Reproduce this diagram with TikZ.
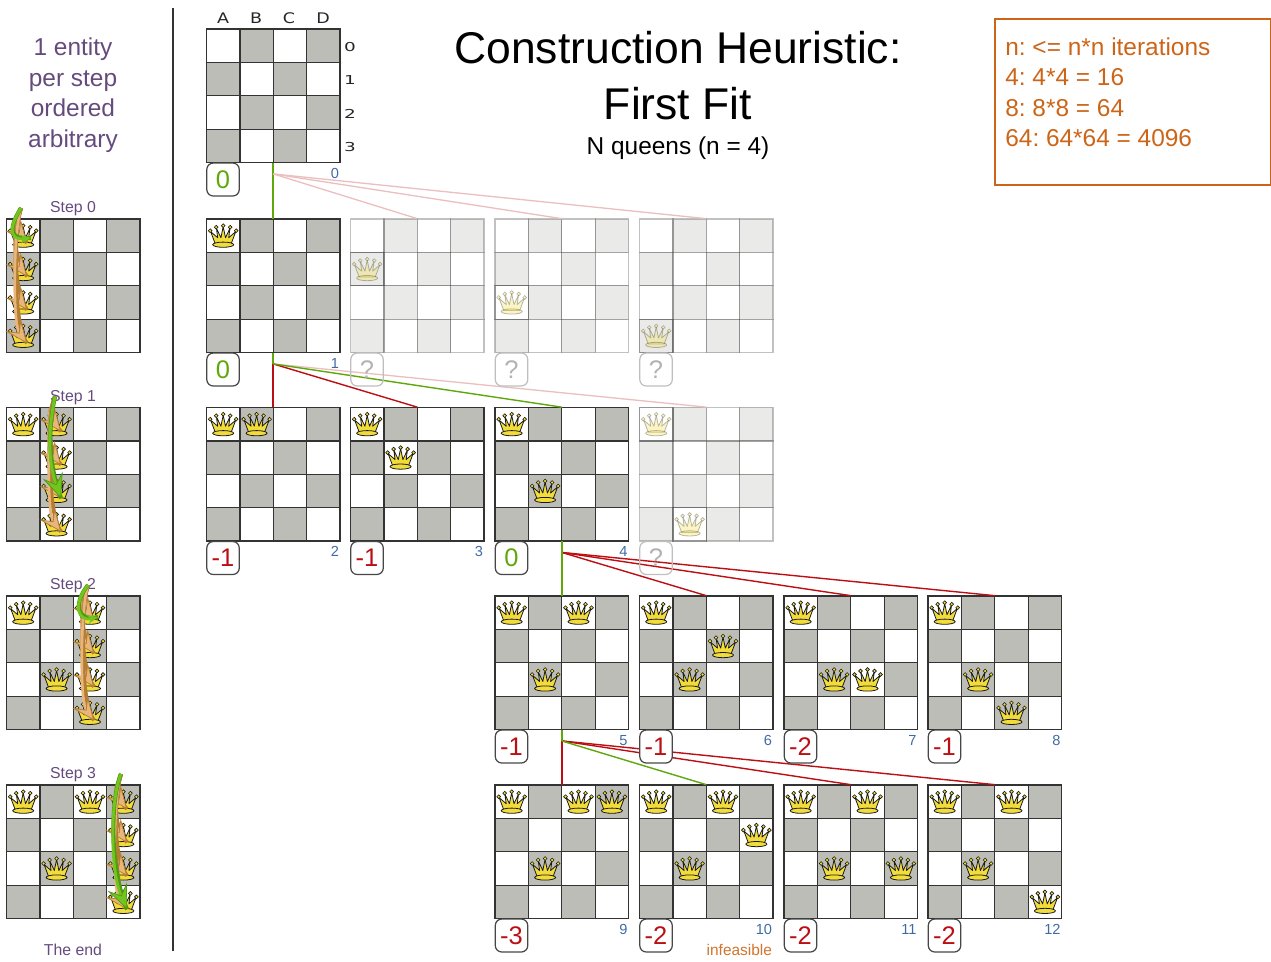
\documentclass[tikz,border=0pt]{standalone}
\usepackage{fontspec}
\setmainfont{Liberation Sans}
\newfontfamily\lettresfont{DejaVu Sans}
\usetikzlibrary{calc,positioning,arrows.meta}
\frenchspacing
\definecolor{caseFoncee}{HTML}{BBBDB6}
\definecolor{traitCase}{HTML}{333333}
\definecolor{violetTexte}{HTML}{654A7E}
\definecolor{orangeTexte}{HTML}{CC6518}
\definecolor{bleuNum}{HTML}{3F6BA5}
\definecolor{vertScore}{HTML}{5FA80C}
\definecolor{rougeScore}{HTML}{BC0F14}
\definecolor{roseLien}{HTML}{EBBFC0}
\definecolor{orReine}{HTML}{F2DC3C}
\definecolor{flecheOrange}{HTML}{E8B67C}
\definecolor{bordOrange}{HTML}{B57D32}
\definecolor{flecheVerte}{HTML}{72C51E}
\definecolor{bordVert}{HTML}{4E9A12}
\tikzset{
  casePlateau/.style={draw=traitCase,line width=0.7pt},
  plateau/.style={inner sep=0pt,minimum size=2.672cm},
  estompe/.style={opacity=0.3},
  scoreBox/.style={draw=traitCase!90,line width=0.7pt,rounded corners=0.13cm,fill=white,inner sep=0pt,
    minimum width=0.65cm,minimum height=0.66cm,font=\fontsize{14.5}{17}\selectfont},
  scoreBon/.style={scoreBox,text=vertScore},
  scoreMauvais/.style={scoreBox,text=rougeScore},
  scoreInconnu/.style={scoreBox,fill=none,draw=black!25,text=black!30},
  numero/.style={text=bleuNum,inner sep=0pt,font=\fontsize{8.3}{10}\selectfont},
  lienRouge/.style={draw=rougeScore,line width=0.8pt},
  lienVert/.style={draw=vertScore,line width=0.8pt},
  lienRose/.style={draw=roseLien,line width=0.75pt},
  etiquette/.style={text=violetTexte,inner sep=0pt,font=\fontsize{9}{10}\selectfont},
  blocTexte/.style={inner sep=0pt,font=\fontsize{13.9}{17.4}\selectfont},
  repereLettre/.style={text=black!85,inner sep=0pt,transform shape,xscale=1.2,font=\lettresfont\fontsize{8.3}{10}\selectfont},
  repereChiffre/.style={text=black!85,inner sep=0pt,transform shape,xscale=1.5,font=\lettresfont\fontsize{7}{10}\selectfont},
  flecheEssai/.style={draw=flecheOrange,line width=1.5pt,
    preaction={draw=bordOrange,line width=2.2pt,-},
    -{Stealth[length=13pt,width=11pt,inset=5.5pt,line width=0.4pt,color=bordOrange,fill=flecheOrange]}},
  flecheChoix/.style={draw=flecheVerte,line width=1.6pt,
    preaction={draw=bordVert,line width=2.3pt,-},
    -{Stealth[length=14pt,width=12pt,inset=5.5pt,line width=0.4pt,color=bordVert,fill=flecheVerte]}},
  flecheCourte/.style={draw=flecheVerte,line width=1.6pt,
    preaction={draw=bordVert,line width=2.3pt,-},
    -{Stealth[length=6pt,width=5pt,inset=2pt,fill=flecheVerte]}},
  reine/.pic={
    \fill[orReine,draw=black!90,line width=0.45pt,line join=round] (-8,8) -- (-12.5,-4) -- (-5.5,2) -- (-6.8,-7.5)
      -- (-2.3,2) -- (0,-9) -- (2.3,2) -- (6.8,-7.5) -- (5.5,2) -- (12.5,-4) -- (8,8) -- cycle;
    \fill[orReine,draw=black!90,line width=0.45pt] (0,9) ellipse (10.5 and 2.6);
    \foreach \bx/\by in {-13/-5,-7/-8.5,0/-10,7/-8.5,13/-5}
      \fill[orReine,draw=black!90,line width=0.35pt] (\bx,\by) circle (1.9);
  }
}
% plateau : [style]{nom}{(x,y)}{reines colonne/ligne}
\newcommand{\plateauReines}[4][]{%
  \begin{scope}[shift={#3},#1]
    \node[plateau] (#2) at (66.8,66.8) {};
    \foreach \cc in {0,...,3}
      \foreach \rr in {0,...,3} {
        \pgfmathtruncatemacro{\teinte}{mod(\cc+\rr,2)}
        \ifnum\teinte=1 \def\fond{caseFoncee}\else\def\fond{white}\fi
        \path[casePlateau,fill=\fond] (\cc*33.4,\rr*33.4) rectangle ++(33.4,33.4);
      }
    \foreach \qc/\qr in {#4} {
      \draw[casePlateau] (\qc*33.4,\qr*33.4) rectangle ++(33.4,33.4);
      \path (\qc*33.4+16.7,\qr*33.4+16.7) pic {reine};
    }
  \end{scope}
}
\begin{document}
\begin{tikzpicture}[x=0.02cm,y=-0.02cm]
  \useasboundingbox (0,0) rectangle (1271,962);

  % Titre et textes
  \node[font=\fontsize{25.3}{31.8}\selectfont,align=center,inner sep=0pt] (titre) at (678,75.5) {Construction Heuristic:\\First Fit};
  \node[inner sep=0pt,font=\fontsize{13.9}{16}\selectfont] (sousTitre) at (678,148) {N queens (n = 4)};
  \node[blocTexte,text=violetTexte,align=center] (consigne) at (73,95) {1 entity\\per step\\ordered\\arbitrary};
  \draw[orangeTexte,line width=1.1pt] (995,19) rectangle (1271,185);
  \node[blocTexte,text=orangeTexte,align=left,anchor=north west] (legende) at (1005,37) {n: <= n*n iterations\\4: 4*4 = 16\\8: 8*8 = 64\\64: 64*64 = 4096};
  \coordinate (sepHaut) at (173,8);
  \coordinate (sepBas) at (173,951);
  \draw[traitCase,line width=0.7pt] (sepHaut) -- (sepBas);

  % Plateaux de l'arbre (ancres pour les liens)
  \plateauReines{b0}{(206.5,29)}{}
  \plateauReines{b1}{(206.5,219)}{0/0}
  \plateauReines[estompe]{x1}{(350.5,219)}{0/1}
  \plateauReines[estompe]{x2}{(495,219)}{0/2}
  \plateauReines[estompe]{x3}{(639.5,219)}{0/3}
  \plateauReines{b2}{(206.5,407.5)}{0/0,1/0}
  \plateauReines{b3}{(350.5,407.5)}{0/0,1/1}
  \plateauReines{b4}{(495,407.5)}{0/0,1/2}
  \plateauReines[estompe]{x4}{(639.5,407.5)}{0/0,1/3}
  \plateauReines{b5}{(495,596)}{0/0,1/2,2/0}
  \plateauReines{b6}{(639.5,596)}{0/0,1/2,2/1}
  \plateauReines{b7}{(784,596)}{0/0,1/2,2/2}
  \plateauReines{b8}{(928,596)}{0/0,1/2,2/3}
  \plateauReines{b9}{(495,785)}{0/0,1/2,2/0,3/0}
  \plateauReines{b10}{(639.5,785)}{0/0,1/2,2/0,3/1}
  \plateauReines{b11}{(784,785)}{0/0,1/2,2/0,3/2}
  \plateauReines{b12}{(928,785)}{0/0,1/2,2/0,3/3}

  % Liens entre plateaux
  \coordinate (f0) at ($(b0.south)+(0,11)$);
  \coordinate (f1) at ($(b1.south)+(0,11)$);
  \coordinate (f4) at ($(b4.south)+(0,11)$);
  \coordinate (f5) at ($(b5.south)+(0,11)$);
  \draw[lienVert,line width=1.05pt] (b0.south) -- (b1.north);
  \foreach \cible in {x1,x2,x3} \draw[lienRose] (f0) -- (\cible.north);
  \draw[lienRose] (f1) -- (x4.north);
  \draw[lienRouge,line width=1.05pt] (f1) -- (b2.north);
  \draw[lienRouge] (f1) -- (b3.north);
  \draw[lienVert,line width=1.05pt] (b1.south) -- (f1);
  \draw[lienVert] (f1) -- (b4.north);
  \foreach \cible in {b6,b7,b8} \draw[lienRouge] (f4) -- (\cible.north);
  \draw[lienVert] (b4.south) -- (b5.north);
  \foreach \cible in {b9,b11,b12} \draw[lienRouge] (f5) -- (\cible.north);
  \draw[lienVert] (b5.south) -- (f5);
  \draw[lienVert] (f5) -- (b10.north);

  % Scores
  \foreach \nom/\style/\val in {0/scoreBon/0,1/scoreBon/0,2/scoreMauvais/-1,3/scoreMauvais/-1,4/scoreBon/0,
      5/scoreMauvais/-1,6/scoreMauvais/-1,7/scoreMauvais/-2,8/scoreMauvais/-1,
      9/scoreMauvais/-3,10/scoreMauvais/-2,11/scoreMauvais/-2,12/scoreMauvais/-2} {
    \node[\style,below right=-0.3pt and 0pt of b\nom.south west] (s\nom) {\val};
    \node[numero,below left=2.7pt and 0.6pt of b\nom.south east] (n\nom) {\nom};
  }
  \foreach \nom in {1,2,3,4}
    \node[scoreInconnu,below right=-0.3pt and 0pt of x\nom.south west] (q\nom) {?};
  \node[text=orangeTexte!90,inner sep=0pt,font=\fontsize{8.8}{10}\selectfont,below left=14pt and 0.6pt of b10.south east] (infaisable) {infeasible};

  % Reperes du premier plateau
  \foreach \lettre/\colx in {A/223,B/256,C/289,D/323}
    \node[repereLettre] (l\lettre) at (\colx,18.5) {\lettre};
  \foreach \ligne/\ligy in {0/47,1/80.5,2/114,3/147}
    \node[repereChiffre] (r\ligne) at (350,\ligy) {\ligne};

  % Etapes a gauche
  \plateauReines{e0}{(6.5,219)}{0/0,0/1,0/2,0/3}
  \plateauReines{e1}{(6.5,407.5)}{0/0,1/0,1/1,1/2,1/3}
  \plateauReines{e2}{(6.5,596)}{0/0,1/2,2/0,2/1,2/2,2/3}
  \plateauReines{e3}{(6.5,785)}{0/0,1/2,2/0,3/0,3/1,3/2,3/3}
  \foreach \etape/\haut in {0/209,1/398,2/586,3/775}
    \node[etiquette] (t\etape) at (73,\haut) {Step \etape};
  \node[etiquette] (fin) at (73,950) {The end};

  % Fleches des essais
  \foreach \etape/\colx/\haut in {0/23/219,1/57/407.5,2/90/596,3/123/785} {
    \coordinate (d\etape) at (\colx-2,\haut-11);
    \foreach \rr in {0,...,3} {
      \coordinate (c\etape\rr) at (\colx+4,\haut+24+33.4*\rr);
      \draw[flecheEssai] (d\etape) .. controls (\colx-10,\haut+14) and (\colx-10,\haut+6+33.4*\rr) .. (c\etape\rr);
    }
  }
  % Fleches du choix
  \draw[flecheCourte] (d0) .. controls (6,232) and (12,240) .. (31,238);
  \draw[flecheChoix] (d1) .. controls (48,430) and (48,462) .. (c12);
  \draw[flecheCourte] (d2) .. controls (72,605) and (78,622) .. (98,617);
  \draw[flecheChoix] (d3) .. controls (110,800) and (110,870) .. (c33);
\end{tikzpicture}
\end{document}
